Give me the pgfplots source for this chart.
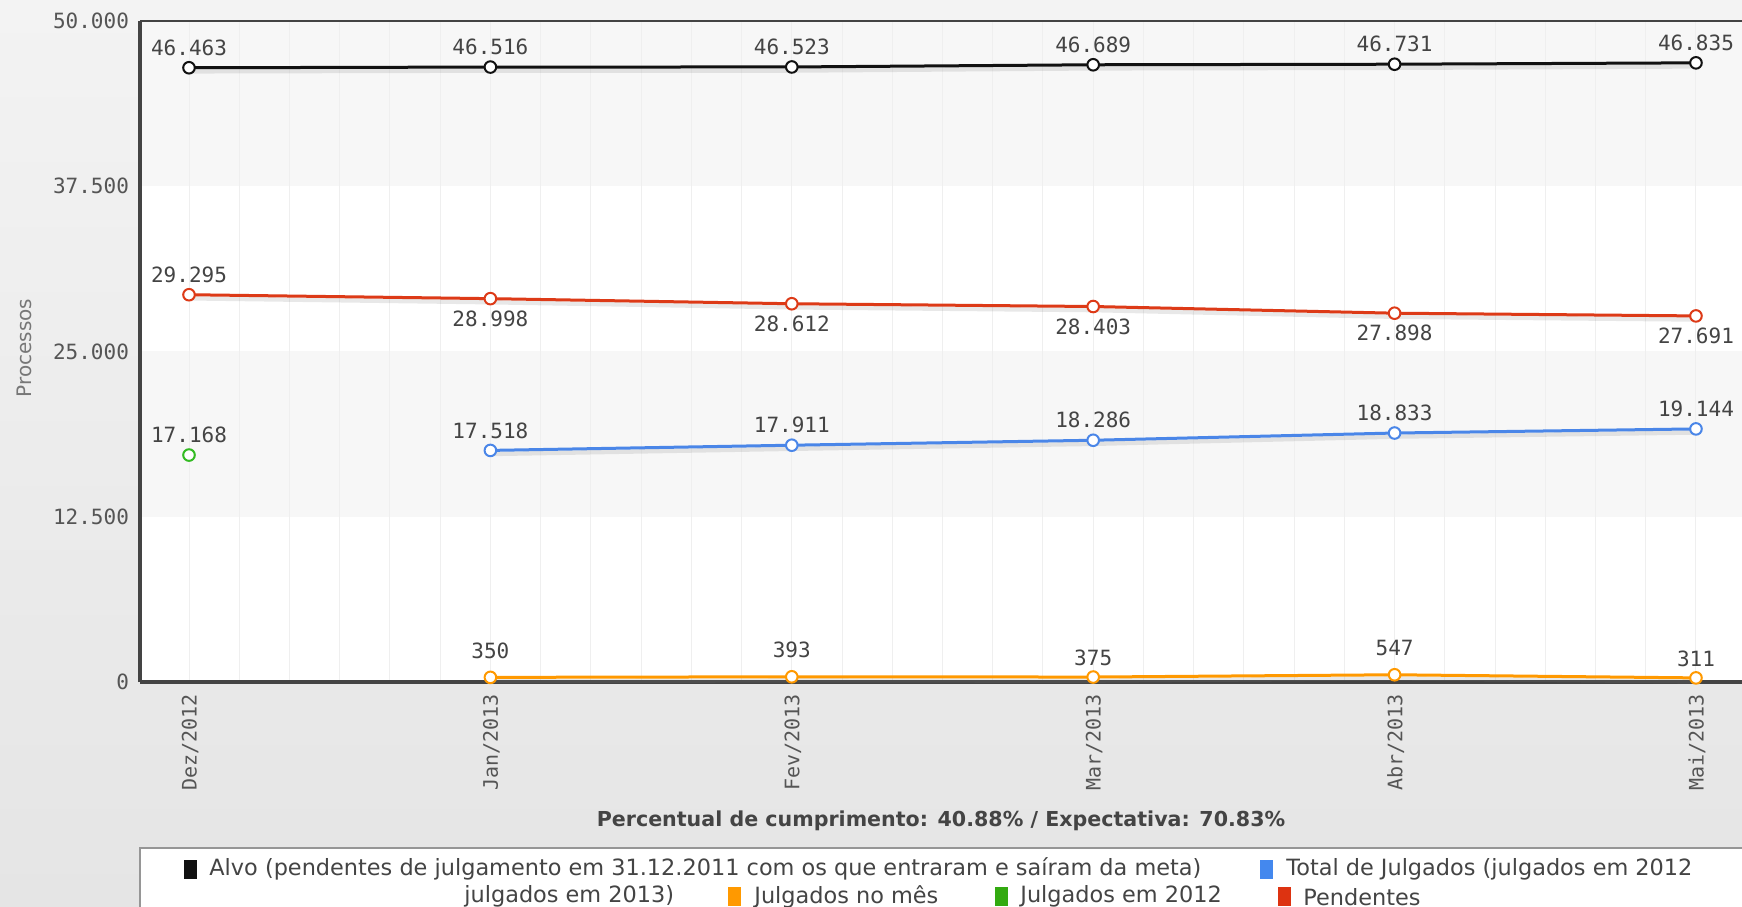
\documentclass[border=0pt]{standalone}
\usepackage{fontspec}
\setmainfont{DejaVu Sans}
\newfontfamily\monofont{DejaVu Sans Mono}
\usepackage{pgfplots}
\pgfplotsset{compat=1.18}
\usepackage{pgfplotstable}

\definecolor{cblack}{HTML}{111111}
\definecolor{cred}{HTML}{DD3A17}
\definecolor{cblue}{HTML}{4A86E8}
\definecolor{corange}{HTML}{FF9900}
\definecolor{cgreen}{HTML}{33BB22}
\definecolor{lgreen}{HTML}{33AA11}
\definecolor{lred}{HTML}{DD3311}
\definecolor{lblue}{HTML}{4488EE}
\definecolor{txt}{HTML}{444444}
\definecolor{ticktxt}{HTML}{555555}
\definecolor{band}{HTML}{F7F7F7}
\definecolor{gridc}{HTML}{EFEFEF}
\definecolor{axisc}{HTML}{444444}

\pgfplotstableread{
x y lab
0 46463 46.463
1 46516 46.516
2 46523 46.523
3 46689 46.689
4 46731 46.731
5 46835 46.835
}\alvo
\pgfplotstableread{
x y lab
0 29295 29.295
1 28998 28.998
2 28612 28.612
3 28403 28.403
4 27898 27.898
5 27691 27.691
}\pendentes
\pgfplotstableread{
x y lab
1 17518 17.518
2 17911 17.911
3 18286 18.286
4 18833 18.833
5 19144 19.144
}\total
\pgfplotstableread{
x y lab
0 17168 17.168
}\jdoze
\pgfplotstableread{
x y lab
1 350 350
2 393 393
3 375 375
4 547 547
5 311 311
}\mes

\pgfplotsset{
  serie/.style={line width=1.5pt, mark=*, mark size=2.9pt,
    mark options={fill=white, draw=#1, line width=1pt, solid}},
  labs/.style={draw=none, mark=none, forget plot,
    point meta=explicit symbolic, nodes near coords,
    every node near coord/.append style={anchor=center, yshift=#1,
      font=\monofont\fontsize{10.5}{12}\selectfont, text=txt}},
  shadow/.style={gray, opacity=0.18, line width=2.2pt, yshift=-1.8pt, forget plot, mark=none}
}

\begin{document}
\begin{tikzpicture}
\useasboundingbox (0,0) rectangle (871pt,453pt);
\clip (0,0) rectangle (871pt,453pt);
\shade[top color={rgb,255:red,243;green,243;blue,243}, bottom color={rgb,255:red,229;green,229;blue,229}] (0,0) rectangle (871pt,453pt);
% plot area background and bands
\fill[white] (70pt,112pt) rectangle (880pt,442.5pt);
\fill[band] (70pt,359.875pt) rectangle (880pt,442.5pt);
\fill[band] (70pt,194.625pt) rectangle (880pt,277.25pt);

\begin{axis}[
  at={(70pt,112pt)}, anchor=south west,
  scale only axis, width=803.6pt, height=330.5pt,
  xmin=-0.1626, xmax=5.17, ymin=0, ymax=50000,
  axis lines*=left,
  axis line style={axisc, line width=1.6pt},
  xtick={0,1,2,3,4,5},
  xticklabels={Dez/2012,Jan/2013,Fev/2013,Mar/2013,Abr/2013,Mai/2013},
  minor x tick num=5,
  xmajorgrids, xminorgrids,
  major grid style={gridc, line width=0.5pt},
  minor grid style={gridc, line width=0.5pt},
  ytick={0,12500,25000,37500,50000},
  scaled y ticks=false,
  major tick length=0pt, minor tick length=0pt,
  /pgf/number format/.cd, fixed, precision=0, 1000 sep={.}, assume math mode=true,
  /pgfplots/.cd,
  yticklabel style={font=\monofont\fontsize{10.5}{12}\selectfont, text=ticktxt, anchor=east, xshift=-2pt},
  xticklabel style={font=\monofont\fontsize{10}{12}\selectfont, text=ticktxt, rotate=90, anchor=east, yshift=-0.5pt, xshift=-2.8pt},
  clip=false,
]
\addplot[shadow] table[x=x,y=y] {\alvo};
\addplot[shadow] table[x=x,y=y] {\pendentes};
\addplot[shadow] table[x=x,y=y] {\total};
\addplot[shadow] table[x=x,y=y] {\mes};

\addplot[cblack, serie=cblack] table[x=x, y=y] {\alvo};
\addplot[cred, serie=cred] table[x=x, y=y] {\pendentes};
\addplot[cblue, serie=cblue] table[x=x, y=y] {\total};
\addplot[cgreen, serie=cgreen, only marks] table[x=x, y=y] {\jdoze};
\addplot[corange, serie=corange] table[x=x, y=y] {\mes};

% value labels
\addplot[labs=10pt] table[x=x, y=y, meta=lab] {\alvo};
\addplot[labs=10pt, x filter/.expression={x==0 ? x : nan}] table[x=x, y=y, meta=lab] {\pendentes};
\addplot[labs=-10pt, x filter/.expression={x>0 ? x : nan}] table[x=x, y=y, meta=lab] {\pendentes};
\addplot[labs=10pt] table[x=x, y=y, meta=lab] {\total};
\addplot[labs=10pt] table[x=x, y=y, meta=lab] {\jdoze};
\addplot[labs=13.5pt, x filter/.expression={(x==3 || x==5) ? nan : x}] table[x=x, y=y, meta=lab] {\mes};
\addplot[labs=9.6pt, x filter/.expression={(x==3 || x==5) ? x : nan}] table[x=x, y=y, meta=lab] {\mes};
\end{axis}

\draw[axisc, line width=1.1pt] (70pt,442.5pt) -- (880pt,442.5pt);

\node[rotate=90, text={rgb,255:red,119;green,119;blue,119}, font=\fontsize{10}{12}\selectfont] at (12pt,279pt) {Processos};

\node[text=txt, font=\bfseries\fontsize{10.3}{12}\selectfont] at (470.5pt,42.5pt) {Percentual de cumprimento: 40.88\% / Expectativa: 70.83\%};

% legend
\draw[fill=white, draw={rgb,255:red,150;green,150;blue,150}, line width=0.8pt] (70pt,29pt) rectangle (900pt,-20pt);
\begin{scope}[every node/.style={text=txt, font=\fontsize{11.2}{13}\selectfont, anchor=west, inner sep=0pt}]
\fill[cblack] (91.8pt,13.7pt) rectangle ++(6.5pt,9.5pt);
\node at (104.5pt,18.5pt) {Alvo (pendentes de julgamento em 31.12.2011 com os que entraram e saíram da meta)};
\fill[lblue] (629.8pt,13.7pt) rectangle ++(6.5pt,9.5pt);
\node at (643pt,18.5pt) {Total de Julgados (julgados em 2012};
\node at (232pt,4.6pt) {julgados em 2013)};
\fill[corange] (363.8pt,-0.2pt) rectangle ++(6.5pt,9.5pt);
\node at (377pt,4.6pt) {Julgados no mês};
\fill[lgreen] (497.3pt,-0.2pt) rectangle ++(6.5pt,9.5pt);
\node at (510pt,4.6pt) {Julgados em 2012};
\fill[lred] (638.8pt,-0.2pt) rectangle ++(6.5pt,9.5pt);
\node at (651.5pt,4.6pt) {Pendentes};
\end{scope}
\end{tikzpicture}
\end{document}
